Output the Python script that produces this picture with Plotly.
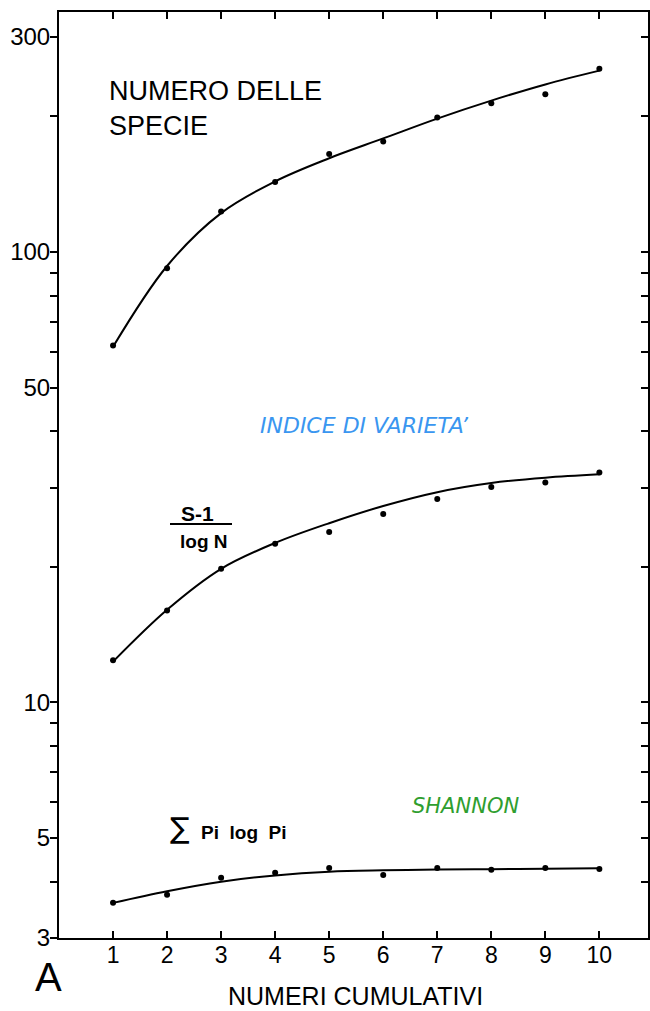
import plotly.graph_objects as go

# campioni cumulativi
campioni = [1, 2, 3, 4, 5, 6, 7, 8, 9, 10]

# numero delle specie: punti osservati e curva tracciata
specie_punti = [62, 92, 123, 143, 165, 176, 199, 214, 224, 255]
specie_curva = [61.6, 93.1, 122, 143.5, 161.5, 178.7, 197.8, 216.8, 235.5, 252.7]

# indice di varieta' (S-1)/log N
varieta_punti = [12.4, 16.0, 19.8, 22.5, 23.9, 26.2, 28.3, 30.1, 30.8, 32.4]
varieta_curva = [12.32, 16.06, 19.8, 22.6, 25.0, 27.3, 29.3, 30.7, 31.55, 32.1]

# shannon
shannon_punti = [3.59, 3.74, 4.08, 4.19, 4.29, 4.14, 4.29, 4.25, 4.29, 4.27]
shannon_curva = [3.59, 3.81, 4.0, 4.13, 4.21, 4.24, 4.255, 4.265, 4.275, 4.285]

y_ticks = [3, 4, 5, 6, 7, 8, 9, 10, 20, 30, 40, 50, 60, 70, 80, 90, 100, 200, 300]
y_labels = {3: "3", 5: "5", 10: "10", 50: "50", 100: "100", 300: "300"}

W, H = 650, 1011
L, R, T, B = 59, 648, 12, 938   # area del grafico in pixel


def px(x):
    return (x - L) / (R - L)


def py(y):
    return (B - y) / (B - T)


fig = go.Figure()

for curva, punti in [(specie_curva, specie_punti),
                     (varieta_curva, varieta_punti),
                     (shannon_curva, shannon_punti)]:
    fig.add_trace(go.Scatter(x=campioni, y=curva, mode="lines",
                             line=dict(color="black", width=2, shape="spline", smoothing=1.0),
                             showlegend=False, hoverinfo="skip"))
    fig.add_trace(go.Scatter(x=campioni, y=punti, mode="markers",
                             marker=dict(color="black", size=6),
                             showlegend=False))

# asse destro con tacche interne
fig.add_trace(go.Scatter(x=[campioni[0]], y=[specie_punti[0]], yaxis="y2",
                         mode="markers", marker=dict(opacity=0),
                         showlegend=False, hoverinfo="skip"))

font = "Liberation Sans, Arial, sans-serif"

fig.update_layout(
    width=W, height=H,
    margin=dict(l=L, r=W - R, t=T, b=H - B, autoexpand=False),
    plot_bgcolor="white", paper_bgcolor="white",
    font=dict(family=font, color="black"),
    xaxis=dict(range=[0, 10.9], tickvals=campioni, ticks="inside", ticklen=7,
               tickwidth=2, tickcolor="black", mirror="ticks", showline=True,
               linecolor="black", linewidth=2, showgrid=False, zeroline=False,
               tickfont=dict(size=23, family=font), ticklabelstandoff=-5,
               automargin=False),
    yaxis=dict(type="log", range=[0.4771, 2.5328], tickvals=y_ticks,
               ticktext=[y_labels.get(v, "") for v in y_ticks],
               ticks="outside", ticklen=7, tickwidth=2, tickcolor="black",
               showline=True, linecolor="black", linewidth=2, showgrid=False,
               zeroline=False, tickfont=dict(size=24, family=font),
               ticklabelstandoff=-5, automargin=False),
    yaxis2=dict(type="log", range=[0.4771, 2.5328], overlaying="y", side="right",
                tickvals=y_ticks, showticklabels=False, ticks="inside", ticklen=7,
                tickwidth=2, tickcolor="black", showline=True, linecolor="black",
                linewidth=2, showgrid=False, zeroline=False, automargin=False),
)

ann = [
    dict(x=px(107), y=py(74), text="NUMERO DELLE<br>SPECIE", xanchor="left", yanchor="top",
         align="left", font=dict(size=27)),
    dict(x=px(364), y=py(425), text="<i>INDICE DI VARIETA’</i>",
         font=dict(size=22, color="#3a96f0", family="DejaVu Sans")),
    dict(x=px(465), y=py(806), text="<i>SHANNON</i>",
         font=dict(size=21, color="#2f9e2f", family="DejaVu Sans")),
    dict(x=px(197), y=py(513), text="<b>S-1</b>", font=dict(size=21)),
    dict(x=px(204), y=py(542), text="<b>log N</b>", font=dict(size=19)),
    dict(x=px(180), y=py(828), text="∑", font=dict(size=29, family="DejaVu Sans")),
    dict(x=px(199), y=py(832), text="<b>Pi  log  Pi</b>", xanchor="left", font=dict(size=19)),
    dict(x=px(48), y=py(977), text="A", font=dict(size=40)),
    dict(x=px(355), y=py(996), text="NUMERI CUMULATIVI", font=dict(size=25)),
]
for a in ann:
    a.setdefault("xanchor", "center")
    a.setdefault("yanchor", "middle")
    a.update(xref="paper", yref="paper", showarrow=False)
    fig.add_annotation(**a)

fig.add_shape(type="line", xref="paper", yref="paper", x0=px(170), x1=px(232),
              y0=py(524), y1=py(524), line=dict(color="black", width=2))

# niente margine del body, la figura occupa tutta la finestra
fig.write_html("out.html", config={"displayModeBar": False},
               post_script="document.body.style.margin='0px';")
